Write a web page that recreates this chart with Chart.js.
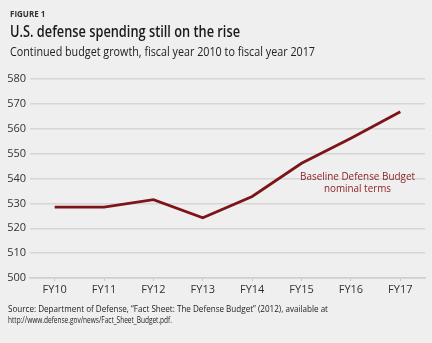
<!DOCTYPE html>
<html>
<head>
<meta charset="utf-8">
<script src="https://cdn.jsdelivr.net/npm/chart.js@4/dist/chart.umd.min.js"></script>
<style>
  html, body { margin: 0; padding: 0; background: #efefef; }
  #wrap { width: 432px; height: 343px; }
</style>
</head>
<body>
<div id="wrap"><canvas id="budgetChart" width="432" height="343"></canvas></div>
<script>
const years = ['FY10', 'FY11', 'FY12', 'FY13', 'FY14', 'FY15', 'FY16', 'FY17'];
const budget = [528.5, 528.5, 531.5, 524.2, 532.8, 546.1, 556.2, 566.8];
const yTicks = [500, 510, 520, 530, 540, 550, 560, 570, 580];

const FONT = "'Open Sans', 'Noto Sans', sans-serif";
const RED = '#7c1418';

// header, source note and series label
Chart.register({
  id: 'textBlocks',
  afterDraw(chart) {
    const ctx = chart.ctx;
    ctx.save();
    ctx.textBaseline = 'alphabetic';
    ctx.textAlign = 'left';
    ctx.fillStyle = '#333';
    ctx.font = `bold 8px ${FONT}`;
    ctx.fillText('FIGURE 1', 10, 17, 37);
    ctx.fillStyle = '#1a1a1a';
    ctx.font = `600 16px ${FONT}`;
    ctx.fillText('U.S. defense spending still on the rise', 10, 37, 230);
    ctx.fillStyle = '#222';
    ctx.font = `12.5px ${FONT}`;
    ctx.fillText('Continued budget growth, fiscal year 2010 to fiscal year 2017', 10, 56, 305);
    ctx.font = `9px ${FONT}`;
    ctx.fillText('Source: Department of Defense, \u201cFact Sheet: The Defense Budget\u201d (2012), available at', 8, 312, 320);
    ctx.fillText('http://www.defense.gov/news/Fact_Sheet_Budget.pdf.', 8, 323, 164);

    ctx.textAlign = 'center';
    ctx.fillStyle = '#8a1c1f';
    ctx.font = `10.5px ${FONT}`;
    ctx.fillText('Baseline Defense Budget', 357.5, 180, 115);
    ctx.fillText('nominal terms', 357.5, 192, 67);
    ctx.restore();
  }
});

new Chart(document.getElementById('budgetChart'), {
  type: 'line',
  data: {
    labels: years,
    datasets: [{
      data: budget,
      borderColor: RED,
      borderWidth: 2.8,
      pointRadius: 0,
      tension: 0,
      fill: false
    }]
  },
  options: {
    responsive: false,
    animation: false,
    layout: { padding: { top: 79, right: 7, left: 0, bottom: 0 } },
    plugins: {
      legend: { display: false },
      tooltip: { enabled: false }
    },
    scales: {
      x: {
        offset: true,
        grid: {
          display: true,
          drawOnChartArea: false,
          tickLength: 3,
          color: '#c8c8c8',
          lineWidth: 1
        },
        border: { display: true, color: '#cfcfcf', width: 1.5 },
        ticks: {
          color: '#333',
          font: { family: FONT, size: 11 },
          padding: 2
        },
        afterFit(scale) { scale.height = 65; }
      },
      y: {
        min: 500,
        max: 580,
        afterBuildTicks(scale) { scale.ticks = yTicks.map(v => ({ value: v })); },
        grid: {
          color: '#d6d6d6',
          lineWidth: 1.5,
          drawTicks: false
        },
        border: { display: false },
        ticks: {
          color: '#333',
          font: { family: FONT, size: 11 },
          padding: 4
        },
        afterFit(scale) { scale.width = 30; }
      }
    }
  }
});
</script>
</body>
</html>
